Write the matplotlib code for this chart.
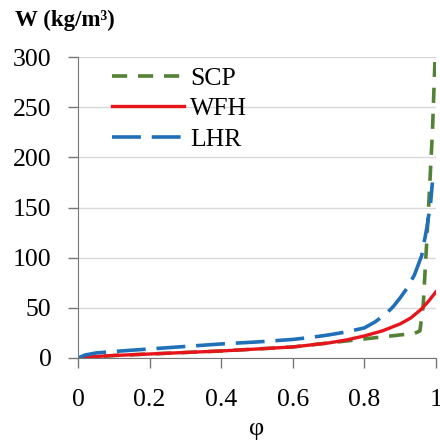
import matplotlib.pyplot as plt

# sorption isotherm curves
phi_wfh = [0, 0.05, 0.1, 0.2, 0.3, 0.4, 0.5, 0.6, 0.7, 0.75, 0.8, 0.85, 0.9, 0.93, 0.96, 0.98, 1.0]
w_wfh = [0, 1.5, 2.5, 4, 5.5, 7, 9, 11, 15, 18, 22, 27, 34, 40, 49, 57, 66]

phi_lhr = [0, 0.02, 0.05, 0.1, 0.2, 0.3, 0.4, 0.5, 0.6, 0.65, 0.7, 0.75, 0.8, 0.83, 0.86,
           0.88, 0.9, 0.92, 0.94, 0.96, 0.975, 0.985, 0.99]
w_lhr = [0, 3, 5, 6.5, 9, 11.5, 14, 16, 18.5, 20.5, 23, 26, 30, 36, 44,
         51, 60, 70, 83, 102, 131, 155, 175]

phi_scp = [0, 0.1, 0.2, 0.3, 0.4, 0.5, 0.6, 0.7, 0.8, 0.9, 0.94, 0.955, 0.964, 0.978, 0.99, 0.997]
w_scp = [0, 2.5, 4, 5.5, 7, 9, 11, 15, 19, 23, 24.5, 27, 51, 141, 225, 295]

x_ticks = [0, 0.2, 0.4, 0.6, 0.8, 1]
x_labels = ['0', '0.2', '0.4', '0.6', '0.8', '1']
y_ticks = [0, 50, 100, 150, 200, 250, 300]

plt.rcParams['font.family'] = ['Liberation Serif', 'DejaVu Serif']

fig = plt.figure(figsize=(4.4, 4.43), dpi=100)
ax = fig.add_axes([78 / 440, 85 / 443, 358 / 440, 301 / 443])

ax.plot(phi_scp, w_scp, color='#538135', lw=2.6, dashes=(4.2, 3), label='SCP')
ax.plot(phi_wfh, w_wfh, color='#e8141b', lw=2.4, label='WFH')
ax.plot(phi_lhr, w_lhr, color='#1f70b8', lw=2.6, dashes=(8, 3), label='LHR')

ax.set_xlim(0, 1)
ax.set_ylim(0, 300)
ax.set_xticks(x_ticks)
ax.set_xticklabels(x_labels)
ax.set_yticks(y_ticks)
ax.tick_params(labelsize=18.5, color='#777777', length=7, width=1)
ax.tick_params(axis='y', pad=12)
ax.tick_params(axis='x', pad=15)
ax.grid(axis='y', color='#d9d9d9', lw=1)
ax.set_axisbelow(True)
for s in ['top', 'right']:
    ax.spines[s].set_visible(False)
for s in ['left', 'bottom']:
    ax.spines[s].set_color('#777777')

ax.set_xlabel('φ', fontsize=19, labelpad=5)
fig.text(15 / 440, 1 - 20 / 443, 'W (kg/m³)', fontsize=16.5, fontweight='bold', va='center')

leg = ax.legend(loc='upper left', bbox_to_anchor=(0.03, 1.045), frameon=False,
                fontsize=18.5, handlelength=2.8, handletextpad=0.25, labelspacing=0.3)

fig.savefig('out.png', dpi=100)
